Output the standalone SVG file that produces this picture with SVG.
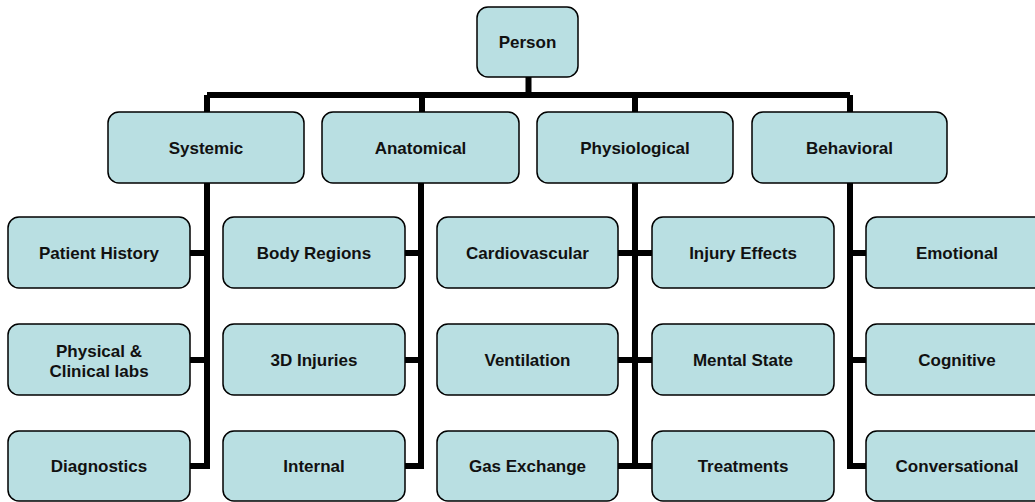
<svg xmlns="http://www.w3.org/2000/svg" width="1035" height="502" viewBox="0 0 1035 502">
<style>
.box{fill:#B9DFE2;stroke:#000;stroke-width:1.5}
.t{font-family:"Liberation Sans",Arial,sans-serif;font-weight:bold;font-size:17px;fill:#111;text-anchor:middle}
.c{fill:none;stroke:#000;stroke-width:6;stroke-linejoin:miter}
</style>
<rect width="1035" height="502" fill="#fff"/>
<g id="connectors">
<path class="c" d="M528.5 77V95M207 95H850M207 95V112M422 95V112M635 95V112M850 95V112"/>
<path class="c" d="M207 183V466H190M190 253H207M190 360H207"/>
<path class="c" d="M421 183V466H405M405 253H421M405 360H421"/>
<path class="c" d="M635 183V466M618 253H652M618 360H652M618 466H652"/>
<path class="c" d="M850 183V466H866M850 253H866M850 360H866"/>
</g>
<g id="person"><rect class="box" x="477" y="7" width="101" height="70" rx="11"/><text class="t" x="527.5" y="48">Person</text></g>
<g id="systemic"><rect class="box" x="108" y="112" width="196" height="71" rx="11"/><text class="t" x="206" y="153.5">Systemic</text></g>
<g id="anatomical"><rect class="box" x="322" y="112" width="197" height="71" rx="11"/><text class="t" x="420.5" y="153.5">Anatomical</text></g>
<g id="physiological"><rect class="box" x="537" y="112" width="196" height="71" rx="11"/><text class="t" x="635" y="153.5">Physiological</text></g>
<g id="behavioral"><rect class="box" x="752" y="112" width="195" height="71" rx="11"/><text class="t" x="849.5" y="153.5">Behavioral</text></g>
<g id="patient-history"><rect class="box" x="8" y="217" width="182" height="71" rx="11"/><text class="t" x="99" y="259">Patient History</text></g>
<g id="physical-clinical"><rect class="box" x="8" y="324" width="182" height="71" rx="11"/><text class="t" x="99" y="357">Physical &amp;</text><text class="t" x="99" y="377">Clinical labs</text></g>
<g id="diagnostics"><rect class="box" x="8" y="431" width="182" height="70" rx="11"/><text class="t" x="99" y="472">Diagnostics</text></g>
<g id="body-regions"><rect class="box" x="223" y="217" width="182" height="71" rx="11"/><text class="t" x="314" y="259">Body Regions</text></g>
<g id="3d-injuries"><rect class="box" x="223" y="324" width="182" height="71" rx="11"/><text class="t" x="314" y="366">3D Injuries</text></g>
<g id="internal"><rect class="box" x="223" y="431" width="182" height="70" rx="11"/><text class="t" x="314" y="472">Internal</text></g>
<g id="cardiovascular"><rect class="box" x="437" y="217" width="181" height="71" rx="11"/><text class="t" x="527.5" y="259">Cardiovascular</text></g>
<g id="ventilation"><rect class="box" x="437" y="324" width="181" height="71" rx="11"/><text class="t" x="527.5" y="366">Ventilation</text></g>
<g id="gas-exchange"><rect class="box" x="437" y="431" width="181" height="70" rx="11"/><text class="t" x="527.5" y="472">Gas Exchange</text></g>
<g id="injury-effects"><rect class="box" x="652" y="217" width="182" height="71" rx="11"/><text class="t" x="743" y="259">Injury Effects</text></g>
<g id="mental-state"><rect class="box" x="652" y="324" width="182" height="71" rx="11"/><text class="t" x="743" y="366">Mental State</text></g>
<g id="treatments"><rect class="box" x="652" y="431" width="182" height="70" rx="11"/><text class="t" x="743" y="472">Treatments</text></g>
<g id="emotional"><rect class="box" x="866" y="217" width="182" height="71" rx="11"/><text class="t" x="957" y="259">Emotional</text></g>
<g id="cognitive"><rect class="box" x="866" y="324" width="182" height="71" rx="11"/><text class="t" x="957" y="366">Cognitive</text></g>
<g id="conversational"><rect class="box" x="866" y="431" width="182" height="70" rx="11"/><text class="t" x="957" y="472">Conversational</text></g>
</svg>
